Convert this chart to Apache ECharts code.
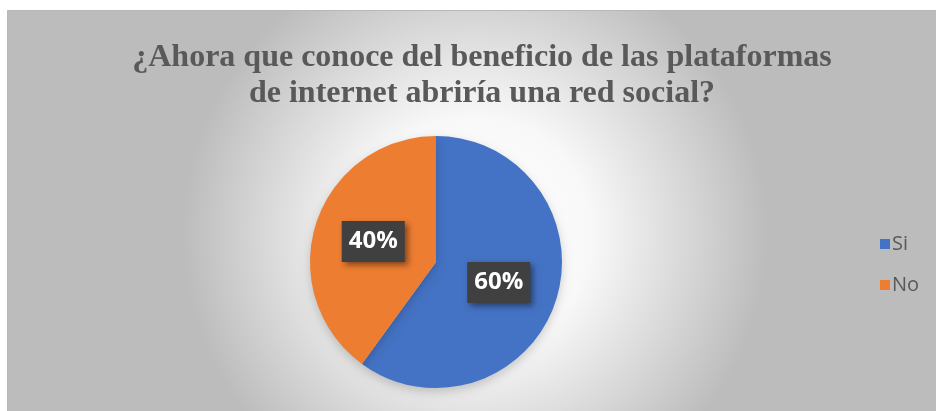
<!DOCTYPE html>
<html><head><meta charset="utf-8">
<script src="https://cdn.jsdelivr.net/npm/echarts@6/dist/echarts.min.js"></script>
<style>html,body{margin:0;padding:0;background:#fff}#c{width:936px;height:411px}</style>
</head><body><div id="c"></div>
<script>
const titleLines = ['¿Ahora que conoce del beneficio de las plataformas', 'de internet abriría una red social?'];
const categories = ['Si', 'No'];
const values = [60, 40];
const colors = ['#4472C4', '#ED7D31'];

const chart = echarts.init(document.getElementById('c'));
chart.setOption({
  animation: false,
  graphic: [{
    type: 'rect', z: -10, silent: true,
    shape: { x: 7.5, y: 10.5, width: 935, height: 405 },
    style: {
      fill: { type: 'radial', x: 0.5, y: 0.55, r: 0.72,
        colorStops: [{ offset: 0, color: '#ffffff' }, { offset: 0.4, color: '#f8f8f8' }, { offset: 1, color: '#bcbcbc' }] },
      stroke: '#b8b8b8', lineWidth: 1
    }
  }],
  title: {
    text: titleLines.join('\n'),
    left: 477, top: 35, textAlign: 'center',
    textStyle: { fontFamily: 'Liberation Serif', fontWeight: 'bold', fontSize: 32, color: '#595959', lineHeight: 36 }
  },
  legend: {
    orient: 'vertical', left: 875, top: 229, itemGap: 21,
    itemWidth: 10, itemHeight: 10, icon: 'rect',
    textStyle: { fontFamily: 'Open Sans', fontSize: 20, color: '#595959', padding: [0, 0, 0, -3] },
    data: categories
  },
  series: [{
    type: 'pie', center: [436, 262], radius: 126, startAngle: 90, clockwise: true,
    data: categories.map((c, i) => ({ name: c, value: values[i], itemStyle: { color: colors[i] } })),
    itemStyle: { borderWidth: 0, shadowBlur: 10, shadowColor: 'rgba(0,0,0,0.18)', shadowOffsetY: 4 },
    label: {
      position: 'inside', formatter: '{d}%',
      fontFamily: 'Open Sans', fontWeight: 'bold', fontSize: 24, color: '#fff',
      backgroundColor: '#404040', padding: [9, 7, 8, 7],
      shadowBlur: 6, shadowColor: 'rgba(0,0,0,0.45)', shadowOffsetX: 3, shadowOffsetY: 3
    },
    labelLine: { show: false }
  }]
});
</script></body></html>
